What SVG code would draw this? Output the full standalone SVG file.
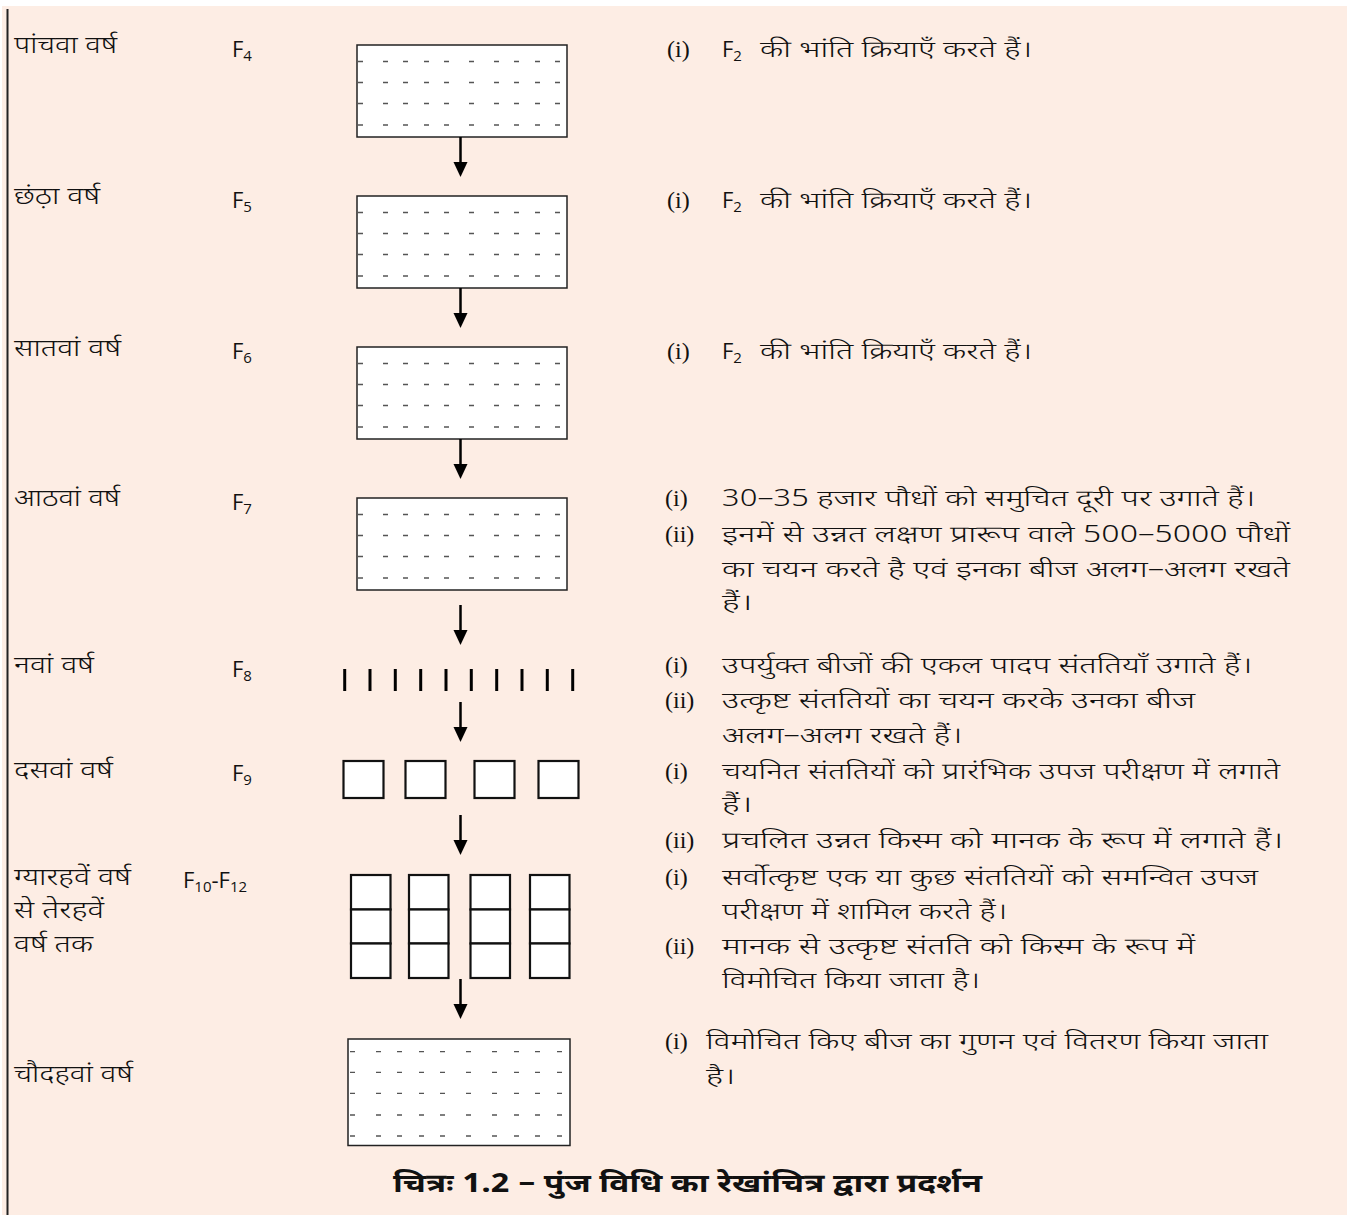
<svg xmlns="http://www.w3.org/2000/svg" xmlns:xlink="http://www.w3.org/1999/xlink" width="1368" height="1215" viewBox="0 0 1368 1215">
<style>
.hi{font-family:"Noto Sans Devanagari","Lohit Devanagari","Mukta","Noto Sans",sans-serif;font-size:24px;font-weight:300;fill:#111}
.rt{font-family:"Noto Sans Devanagari","Lohit Devanagari","Noto Sans",sans-serif;font-size:23px;font-weight:300;fill:#111}
.rn{font-family:"Liberation Serif","Times New Roman",serif;font-size:24px;fill:#111}
.fl{font-family:"Open Sans","Liberation Sans",sans-serif;font-size:22px;fill:#111}
.sb{font-size:15px}
.cap{font-family:"Noto Sans Devanagari","Lohit Devanagari","Noto Sans",sans-serif;font-size:26px;font-weight:bold;fill:#111}
.box{fill:#fff;stroke:#222;stroke-width:1.5}
.cell{fill:#fff;stroke:#111;stroke-width:2.2}
.tick{stroke:#000;stroke-width:3}
</style>
<defs>
<g id="grid4">
<g stroke="#555" stroke-width="1.3">
<path d="M1,16.5h5M26,16.5h5M46,16.5h5M67,16.5h5M87,16.5h5M112,16.5h5M137,16.5h5M157,16.5h5M178,16.5h5M198,16.5h5"/>
<path d="M1,37.5h5M26,37.5h5M46,37.5h5M67,37.5h5M87,37.5h5M112,37.5h5M137,37.5h5M157,37.5h5M178,37.5h5M198,37.5h5"/>
<path d="M1,58.5h5M26,58.5h5M46,58.5h5M67,58.5h5M87,58.5h5M112,58.5h5M137,58.5h5M157,58.5h5M178,58.5h5M198,58.5h5"/>
<path d="M1,80h5M26,80h5M46,80h5M67,80h5M87,80h5M112,80h5M137,80h5M157,80h5M178,80h5M198,80h5"/>
</g>
</g>
<path id="head" d="M-7,0 L7,0 L0,15 Z" fill="#000"/>
</defs>
<rect x="0" y="0" width="1368" height="1215" fill="#ffffff"/>
<rect x="2" y="6" width="1345" height="1209" fill="#fdede4"/>
<line x1="7.5" y1="9" x2="7.5" y2="1215" stroke="#222" stroke-width="2"/>

<g id="box1"><rect class="box" x="357" y="45" width="210" height="92"/><use xlink:href="#grid4" x="357" y="45"/></g>
<g id="box2"><rect class="box" x="357" y="196" width="210" height="92"/><use xlink:href="#grid4" x="357" y="196"/></g>
<g id="box3"><rect class="box" x="357" y="347" width="210" height="92"/><use xlink:href="#grid4" x="357" y="347"/></g>
<g id="box4"><rect class="box" x="357" y="498" width="210" height="92"/><use xlink:href="#grid4" x="357" y="498"/></g>

<g id="ticks" class="tick">
<line x1="344.7" y1="669" x2="344.7" y2="691"/><line x1="370" y1="669" x2="370" y2="691"/><line x1="395.3" y1="669" x2="395.3" y2="691"/><line x1="420.7" y1="669" x2="420.7" y2="691"/><line x1="446" y1="669" x2="446" y2="691"/><line x1="471.3" y1="669" x2="471.3" y2="691"/><line x1="496.7" y1="669" x2="496.7" y2="691"/><line x1="522" y1="669" x2="522" y2="691"/><line x1="547.3" y1="669" x2="547.3" y2="691"/><line x1="572.7" y1="669" x2="572.7" y2="691"/>
</g>

<g id="squares">
<rect class="cell" x="343.5" y="761" width="40" height="37"/>
<rect class="cell" x="405.5" y="761" width="40" height="37"/>
<rect class="cell" x="474.5" y="761" width="40" height="37"/>
<rect class="cell" x="538.5" y="761" width="40" height="37"/>
</g>

<g id="columns">
<rect class="cell" x="351" y="875" width="39.5" height="34.5"/><rect class="cell" x="351" y="909.5" width="39.5" height="34"/><rect class="cell" x="351" y="943.5" width="39.5" height="34.5"/>
<rect class="cell" x="409" y="875" width="39.5" height="34.5"/><rect class="cell" x="409" y="909.5" width="39.5" height="34"/><rect class="cell" x="409" y="943.5" width="39.5" height="34.5"/>
<rect class="cell" x="470.5" y="875" width="39.5" height="34.5"/><rect class="cell" x="470.5" y="909.5" width="39.5" height="34"/><rect class="cell" x="470.5" y="943.5" width="39.5" height="34.5"/>
<rect class="cell" x="530" y="875" width="39.5" height="34.5"/><rect class="cell" x="530" y="909.5" width="39.5" height="34"/><rect class="cell" x="530" y="943.5" width="39.5" height="34.5"/>
</g>

<g id="box5">
<rect class="box" x="348" y="1039" width="222" height="106.5"/>
<g stroke="#555" stroke-width="1.3">
<path d="M350,1051.7h5M376,1051.7h5M397,1051.7h5M419,1051.7h5M440,1051.7h5M466,1051.7h5M492,1051.7h5M514,1051.7h5M535,1051.7h5M557,1051.7h5"/>
<path d="M350,1072.3h5M376,1072.3h5M397,1072.3h5M419,1072.3h5M440,1072.3h5M466,1072.3h5M492,1072.3h5M514,1072.3h5M535,1072.3h5M557,1072.3h5"/>
<path d="M350,1093.3h5M376,1093.3h5M397,1093.3h5M419,1093.3h5M440,1093.3h5M466,1093.3h5M492,1093.3h5M514,1093.3h5M535,1093.3h5M557,1093.3h5"/>
<path d="M350,1115h5M376,1115h5M397,1115h5M419,1115h5M440,1115h5M466,1115h5M492,1115h5M514,1115h5M535,1115h5M557,1115h5"/>
<path d="M350,1136h5M376,1136h5M397,1136h5M419,1136h5M440,1136h5M466,1136h5M492,1136h5M514,1136h5M535,1136h5M557,1136h5"/>
</g>
</g>

<g id="connectors" stroke="#000" stroke-width="2.5">
<line x1="460.5" y1="137" x2="460.5" y2="164"/><use xlink:href="#head" x="460.5" y="162" stroke="none"/>
<line x1="460.5" y1="288" x2="460.5" y2="315"/><use xlink:href="#head" x="460.5" y="313" stroke="none"/>
<line x1="460.5" y1="439" x2="460.5" y2="466"/><use xlink:href="#head" x="460.5" y="464" stroke="none"/>
<line x1="460.5" y1="605" x2="460.5" y2="632"/><use xlink:href="#head" x="460.5" y="630" stroke="none"/>
<line x1="460.5" y1="702" x2="460.5" y2="729"/><use xlink:href="#head" x="460.5" y="727" stroke="none"/>
<line x1="460.5" y1="815" x2="460.5" y2="842"/><use xlink:href="#head" x="460.5" y="840" stroke="none"/>
<line x1="460.5" y1="979" x2="460.5" y2="1006"/><use xlink:href="#head" x="460.5" y="1004" stroke="none"/>
</g>

<g id="year-labels" class="hi">
<text x="14" y="53" textLength="103" lengthAdjust="spacingAndGlyphs">पांचवा वर्ष</text>
<text x="14" y="204" textLength="86" lengthAdjust="spacingAndGlyphs">छंठ़ा वर्ष</text>
<text x="14" y="356" textLength="107" lengthAdjust="spacingAndGlyphs">सातवां वर्ष</text>
<text x="14" y="506" textLength="106" lengthAdjust="spacingAndGlyphs">आठवां वर्ष</text>
<text x="14" y="673" textLength="80" lengthAdjust="spacingAndGlyphs">नवां वर्ष</text>
<text x="14" y="778" textLength="99" lengthAdjust="spacingAndGlyphs">दसवां वर्ष</text>
<text x="14" y="885" textLength="117" lengthAdjust="spacingAndGlyphs">ग्यारहवें वर्ष</text>
<text x="14" y="918" textLength="90" lengthAdjust="spacingAndGlyphs">से तेरहवें</text>
<text x="14" y="952" textLength="79" lengthAdjust="spacingAndGlyphs">वर्ष तक</text>
<text x="14" y="1082" textLength="119" lengthAdjust="spacingAndGlyphs">चौदहवां वर्ष</text>
</g>

<g id="generations" class="fl">
<text x="232" y="57">F<tspan class="sb" dy="4">4</tspan></text>
<text x="232" y="208">F<tspan class="sb" dy="4">5</tspan></text>
<text x="232" y="359">F<tspan class="sb" dy="4">6</tspan></text>
<text x="232" y="510">F<tspan class="sb" dy="4">7</tspan></text>
<text x="232" y="677">F<tspan class="sb" dy="4">8</tspan></text>
<text x="232" y="781">F<tspan class="sb" dy="4">9</tspan></text>
<text x="183" y="888">F<tspan class="sb" dy="4">10</tspan><tspan dy="-4">-F</tspan><tspan class="sb" dy="4">12</tspan></text>
</g>

<g id="notes">
<text class="rn" x="667" y="57">(i)</text>
<text class="fl" x="722" y="57">F<tspan class="sb" dy="4">2</tspan></text>
<text class="rt" x="760" y="57" textLength="272" lengthAdjust="spacingAndGlyphs">की भांति क्रियाएँ करते हैं।</text>

<text class="rn" x="667" y="208">(i)</text>
<text class="fl" x="722" y="208">F<tspan class="sb" dy="4">2</tspan></text>
<text class="rt" x="760" y="208" textLength="272" lengthAdjust="spacingAndGlyphs">की भांति क्रियाएँ करते हैं।</text>

<text class="rn" x="667" y="359">(i)</text>
<text class="fl" x="722" y="359">F<tspan class="sb" dy="4">2</tspan></text>
<text class="rt" x="760" y="359" textLength="272" lengthAdjust="spacingAndGlyphs">की भांति क्रियाएँ करते हैं।</text>

<text class="rn" x="665" y="506">(i)</text>
<text class="rt" x="722" y="506" textLength="533" lengthAdjust="spacingAndGlyphs">30–35 हजार पौधों को समुचित दूरी पर उगाते हैं।</text>
<text class="rn" x="665" y="542">(ii)</text>
<text class="rt" x="722" y="542" textLength="568" lengthAdjust="spacingAndGlyphs">इनमें से उन्नत लक्षण प्रारूप वाले 500–5000 पौधों</text>
<text class="rt" x="722" y="577" textLength="568" lengthAdjust="spacingAndGlyphs">का चयन करते है एवं इनका बीज अलग–अलग रखते</text>
<text class="rt" x="722" y="610" textLength="30" lengthAdjust="spacingAndGlyphs">हैं।</text>

<text class="rn" x="665" y="673">(i)</text>
<text class="rt" x="722" y="673" textLength="530" lengthAdjust="spacingAndGlyphs">उपर्युक्त बीजों की एकल पादप संततियाँ उगाते हैं।</text>
<text class="rn" x="665" y="708">(ii)</text>
<text class="rt" x="722" y="708" textLength="473" lengthAdjust="spacingAndGlyphs">उत्कृष्ट संततियों का चयन करके उनका बीज</text>
<text class="rt" x="722" y="743" textLength="240" lengthAdjust="spacingAndGlyphs">अलग–अलग रखते हैं।</text>

<text class="rn" x="665" y="779">(i)</text>
<text class="rt" x="722" y="779" textLength="558" lengthAdjust="spacingAndGlyphs">चयनित संततियों को प्रारंभिक उपज परीक्षण में लगाते</text>
<text class="rt" x="722" y="812" textLength="30" lengthAdjust="spacingAndGlyphs">हैं।</text>
<text class="rn" x="665" y="848">(ii)</text>
<text class="rt" x="722" y="848" textLength="561" lengthAdjust="spacingAndGlyphs">प्रचलित उन्नत किस्म को मानक के रूप में लगाते हैं।</text>

<text class="rn" x="665" y="885">(i)</text>
<text class="rt" x="722" y="885" textLength="536" lengthAdjust="spacingAndGlyphs">सर्वोत्कृष्ट एक या कुछ संततियों को समन्वित उपज</text>
<text class="rt" x="722" y="919" textLength="285" lengthAdjust="spacingAndGlyphs">परीक्षण में शामिल करते हैं।</text>
<text class="rn" x="665" y="954">(ii)</text>
<text class="rt" x="722" y="954" textLength="473" lengthAdjust="spacingAndGlyphs">मानक से उत्कृष्ट संतति को किस्म के रूप में</text>
<text class="rt" x="722" y="988" textLength="258" lengthAdjust="spacingAndGlyphs">विमोचित किया जाता है।</text>

<text class="rn" x="665" y="1049">(i)</text>
<text class="rt" x="706" y="1049" textLength="562" lengthAdjust="spacingAndGlyphs">विमोचित किए बीज का गुणन एवं वितरण किया जाता</text>
<text class="rt" x="706" y="1084" textLength="29" lengthAdjust="spacingAndGlyphs">है।</text>
</g>

<g id="caption">
<text class="cap" x="393" y="1192" textLength="589" lengthAdjust="spacingAndGlyphs">चित्रः 1.2 – पुंज विधि का रेखांचित्र द्वारा प्रदर्शन</text>
</g>
</svg>
